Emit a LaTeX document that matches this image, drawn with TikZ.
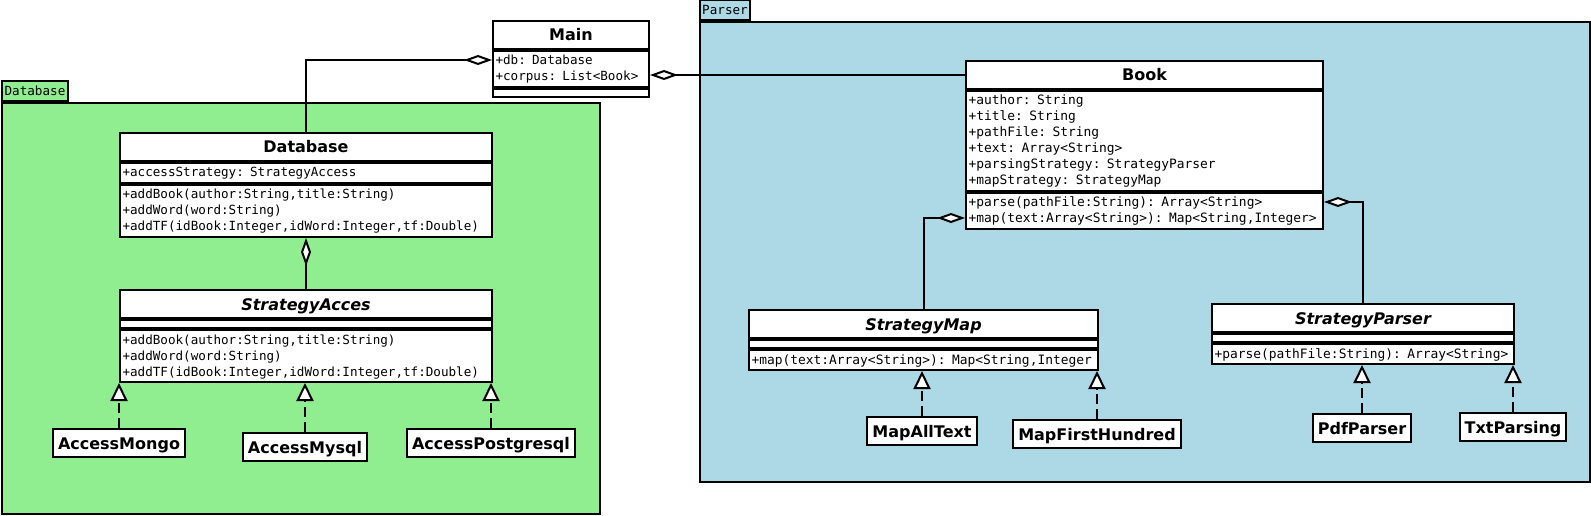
\documentclass[tikz,border=0pt]{standalone}
\usepackage{fontspec}
\setmainfont{DejaVu Sans}
\setmonofont{DejaVu Sans Mono}
\usetikzlibrary{arrows.meta}

\definecolor{dbgreen}{HTML}{90EE90}
\definecolor{parserblue}{HTML}{ADD8E6}

\newcommand{\titlefont}{\fontsize{16}{19}\selectfont\bfseries}
\newcommand{\memfont}{\fontsize{12.6}{16}\selectfont\ttfamily}
\newcommand{\parfont}{\fontsize{12.9}{16}\selectfont\ttfamily}
\newcommand{\memstrut}{\rule[-4pt]{0pt}{16pt}}

\begin{document}
\begin{tikzpicture}[x=1pt, y=-1pt,
    umlbox/.style={draw, line width=2pt, fill=white, anchor=north west, inner sep=0pt},
    clsname/.style={umlbox, minimum height=28pt, text height=12pt, text depth=0pt, font=\titlefont},
    abstract/.style={clsname, font=\titlefont\itshape},
    members/.style={umlbox, inner xsep=2.5pt, align=left, font=\memfont,
      execute at begin node=\memstrut, execute at end node=\memstrut},
    parmembers/.style={members, font=\parfont},
    emptyrow/.style={umlbox, minimum height=8pt},
    leaf/.style={draw, line width=2pt, fill=white, anchor=north, inner xsep=5pt, inner ysep=0pt,
      minimum height=28pt, text height=12pt, text depth=0pt, font=\titlefont},
    pkg/.style={draw, line width=2pt, anchor=north west, inner sep=0pt},
    pkgtab/.style={pkg, anchor=south west, minimum height=20pt, font=\memfont},
    agg/.style={line width=2pt, -{Diamond[fill=white, length=28pt, width=10pt]}},
    impl/.style={line width=2pt, dash pattern=on 10pt off 5pt, -{Triangle[fill=white, length=18pt, width=17pt]}}]
  \useasboundingbox (0,0) rectangle (1591,516);

  % packages
  \node[pkg, fill=dbgreen, minimum width=598pt, minimum height=411pt] (dbpkg) at (1,102) {};
  \node[pkgtab, fill=dbgreen, minimum width=66pt] (dbtab) at (dbpkg.north west) {Database};
  \node[pkg, fill=parserblue, minimum width=890pt, minimum height=460pt] (parpkg) at (699,21) {};
  \node[pkgtab, fill=parserblue, minimum width=50pt] (partab) at (parpkg.north west) {Parser};

  % Main
  \node[clsname, minimum width=156pt] (main) at (492,20) {Main};
  \node[members, text width=151pt, minimum height=36pt] (main-a) at (main.south west)
    {+db: Database\\+corpus: List<Book>};
  \node[emptyrow, minimum width=156pt] (main-o) at (main-a.south west) {};

  % Database package
  \node[clsname, minimum width=372pt] (db) at (119,132) {Database};
  \node[members, text width=367pt, minimum height=20pt] (db-a) at (db.south west)
    {+accessStrategy: StrategyAccess};
  \node[members, text width=367pt, minimum height=52pt] (db-o) at (db-a.south west)
    {+addBook(author:String,title:String)\\+addWord(word:String)\\+addTF(idBook:Integer,idWord:Integer,tf:Double)};

  \node[abstract, minimum width=372pt] (acc) at (119,289) {StrategyAcces};
  \node[emptyrow, minimum width=372pt] (acc-a) at (acc.south west) {};
  \node[members, text width=367pt, minimum height=52pt] (acc-o) at (acc-a.south west)
    {+addBook(author:String,title:String)\\+addWord(word:String)\\+addTF(idBook:Integer,idWord:Integer,tf:Double)};

  \node[leaf] (mongo) at (119,428) {AccessMongo};
  \node[leaf] (mysql) at (305,432) {AccessMysql};
  \node[leaf] (postgres) at (491,428) {AccessPostgresql};

  % Parser package
  \node[clsname, minimum width=357pt] (book) at (965,60) {Book};
  \node[parmembers, text width=352pt, minimum height=100pt] (book-a) at (book.south west)
    {+author: String\\+title: String\\+pathFile: String\\+text: Array<String>\\+parsingStrategy: StrategyParser\\+mapStrategy: StrategyMap};
  \node[parmembers, text width=352pt, minimum height=36pt] (book-o) at (book-a.south west)
    {+parse(pathFile:String): Array<String>\\+map(text:Array<String>): Map<String,Integer>};

  \node[abstract, minimum width=349pt] (smap) at (748,309) {StrategyMap};
  \node[emptyrow, minimum width=349pt] (smap-a) at (smap.south west) {};
  \node[parmembers, text width=344pt, minimum height=20pt] (smap-o) at (smap-a.south west)
    {+map(text:Array<String>): Map<String,Integer};

  \node[abstract, minimum width=302pt] (spar) at (1211,303) {StrategyParser};
  \node[emptyrow, minimum width=302pt] (spar-a) at (spar.south west) {};
  \node[parmembers, text width=297pt, minimum height=20pt] (spar-o) at (spar-a.south west)
    {+parse(pathFile:String): Array<String>};

  \node[leaf] (mapall) at (922,416) {MapAllText};
  \node[leaf] (mapfirst) at (1097,419) {MapFirstHundred};
  \node[leaf] (pdf) at (1362,413) {PdfParser};
  \node[leaf] (txt) at (1513,412) {TxtParsing};

  % aggregations
  \draw[agg] (db.north) |- ([yshift=-10pt]main-a.north west);
  \draw[agg] (book.west) -- (book.west -| main-a.east);
  \draw[agg] (acc.north) -- (db-o.south);
  \draw[agg] (smap.north) |- ([yshift=-26pt]book-o.north west);
  \draw[agg] (spar.north) |- ([yshift=-10pt]book-o.north east);

  % realizations
  \foreach \concrete/\abstr in {mongo/acc-o, mysql/acc-o, postgres/acc-o,
      mapall/smap-o, mapfirst/smap-o, pdf/spar-o, txt/spar-o}
    \draw[impl] (\concrete.north) -- (\concrete.north |- \abstr.south);
\end{tikzpicture}
\end{document}
